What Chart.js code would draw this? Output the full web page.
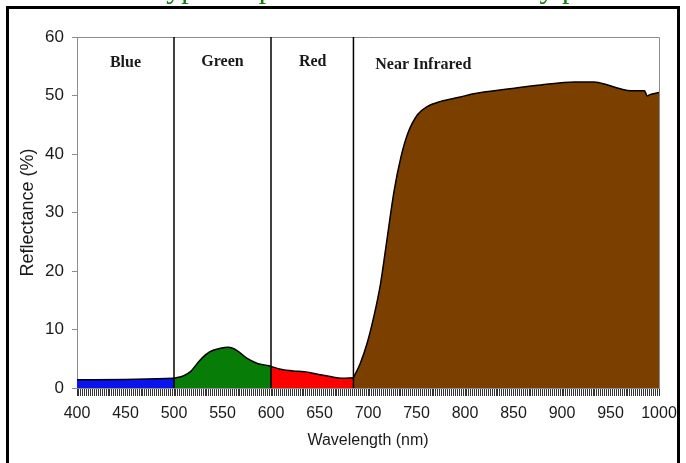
<!DOCTYPE html>
<html>
<head>
<meta charset="utf-8">
<script src="https://cdn.jsdelivr.net/npm/chart.js@4"></script>
<style>
  body { margin: 0; background: #fff; }
  canvas { display: block; }
</style>
</head>
<body>
<canvas id="spectrum" width="686" height="463"></canvas>
<script>
// reflectance curve, one pair of arrays per band
var blueNm = [400, 450, 500];
var blueRef = [1.4, 1.45, 1.65];
var greenNm = [500, 510, 517, 527, 537, 548, 556, 565, 575, 586, 598, 600];
var greenRef = [1.65, 2.1, 2.8, 4.8, 6.2, 6.8, 6.95, 6.4, 5.1, 4.2, 3.8, 3.7];
var redNm = [600, 610, 623, 634, 648, 661, 673, 685];
var redRef = [3.7, 3.2, 2.9, 2.8, 2.35, 1.95, 1.65, 1.75];
var nirNm = [685, 692, 699, 706, 713, 720, 727, 734, 741, 751, 761, 775, 794, 809, 844, 878, 913, 933, 947, 961, 971, 985, 988, 990, 1000];
var nirRef = [1.75, 4.2, 7.6, 12.2, 17.9, 25.9, 33.8, 39.5, 43.5, 46.7, 48.1, 49.0, 49.7, 50.3, 51.1, 51.8, 52.3, 52.3, 51.8, 51.1, 50.8, 50.8, 49.9, 50.1, 50.5];

var bandNames = ["Blue", "Green", "Red", "Near Infrared"];
var bandEdges = [500, 600, 685];
var xTickLabels = [400, 450, 500, 550, 600, 650, 700, 750, 800, 850, 900, 950, 1000];
var titleText = "Typical spectral curves of healthy plants";

// where the band names sit (nm, %)
var bandLabelNm = [450, 550, 643, 757];
var bandLabelRef = [55.5, 55.8, 55.8, 55.3];

function pts(nm, ref) {
    return nm.map(function (v, i) { return { x: v, y: ref[i] }; });
}

function band(nm, ref, color) {
    return {
        data: pts(nm, ref),
        backgroundColor: color,
        borderColor: "#000",
        borderWidth: 1.5,
        fill: "origin",
        pointRadius: 0,
        cubicInterpolationMode: "monotone",
    };
}

var decor = {
    id: "decor",
    beforeDraw: function (chart) {
        var ctx = chart.ctx;
        ctx.save();
        ctx.fillStyle = "#fff";
        ctx.fillRect(0, 0, chart.width, chart.height);
        ctx.restore();
    },
    afterDatasetsDraw: function (chart) {
        var ctx = chart.ctx;
        var a = chart.chartArea;
        var x = chart.scales.x;
        var y = chart.scales.y;
        ctx.save();
        // plot box
        ctx.strokeStyle = "#8c8c8c";
        ctx.lineWidth = 1;
        ctx.beginPath();
        ctx.moveTo(a.left, a.top + 0.5);
        ctx.lineTo(a.right + 0.5, a.top + 0.5);
        ctx.lineTo(a.right + 0.5, a.bottom);
        ctx.stroke();
        // band dividers
        ctx.strokeStyle = "#000";
        ctx.lineWidth = 1.5;
        bandEdges.forEach(function (nm) {
            var px = x.getPixelForValue(nm);
            ctx.beginPath();
            ctx.moveTo(px, a.top);
            ctx.lineTo(px, a.bottom);
            ctx.stroke();
        });
        // band names
        ctx.fillStyle = "#1a1a1a";
        ctx.font = "bold 16px 'Liberation Serif'";
        ctx.textAlign = "center";
        ctx.textBaseline = "middle";
        bandNames.forEach(function (n, i) {
            ctx.fillText(n, x.getPixelForValue(bandLabelNm[i]), y.getPixelForValue(bandLabelRef[i]));
        });
        // outer frame
        ctx.strokeStyle = "#000";
        ctx.lineWidth = 3;
        ctx.strokeRect(7.5, 7.5, 671, 470);
        // title, mostly cut off above the frame
        ctx.fillStyle = "#0b7a0b";
        ctx.font = "30px 'Liberation Serif'";
        ctx.textAlign = "left";
        ctx.textBaseline = "alphabetic";
        ctx.fillText(titleText, 150, -2.5);
        ctx.restore();
    },
};

var ctx = document.getElementById("spectrum");
new Chart(ctx, {
    type: "line",
    data: {
        datasets: [
            band(blueNm, blueRef, "#0a14f0"),
            band(greenNm, greenRef, "#077d07"),
            band(redNm, redRef, "#fe0000"),
            band(nirNm, nirRef, "#7b3f00"),
        ],
    },
    options: {
        responsive: false,
        animation: false,
        layout: { padding: { left: 0, right: 27, top: 37, bottom: 0 } },
        plugins: { legend: { display: false }, tooltip: { enabled: false } },
        scales: {
            x: {
                type: "linear",
                min: 400,
                max: 1000,
                afterFit: function (s) { s.height = 75; },
                grid: { drawOnChartArea: false, tickLength: 8, color: "#333", lineWidth: 1 },
                border: { color: "#8c8c8c" },
                ticks: {
                    stepSize: 2,
                    autoSkip: false,
                    maxRotation: 0,
                    padding: 8,
                    color: "#1a1a1a",
                    font: { family: "'Liberation Sans'", size: 16 },
                    callback: function (v) { return xTickLabels.indexOf(v) >= 0 ? String(v) : ""; },
                },
                title: {
                    display: true,
                    text: "Wavelength (nm)",
                    color: "#1a1a1a",
                    font: { family: "'Liberation Sans'", size: 16 },
                    padding: { top: 0, bottom: 13 },
                },
            },
            y: {
                min: 0,
                max: 60,
                afterFit: function (s) { s.width = 77; },
                grid: { drawOnChartArea: false, tickLength: 5, color: "#8c8c8c" },
                border: { color: "#8c8c8c" },
                ticks: {
                    stepSize: 10,
                    padding: 8,
                    color: "#1a1a1a",
                    font: { family: "'Liberation Sans'", size: 17 },
                },
                title: {
                    display: true,
                    text: "Reflectance (%)",
                    color: "#1a1a1a",
                    font: { family: "'Liberation Sans'", size: 18 },
                    padding: { top: 17, bottom: 0 },
                },
            },
        },
    },
    plugins: [decor],
});
</script>
</body>
</html>
